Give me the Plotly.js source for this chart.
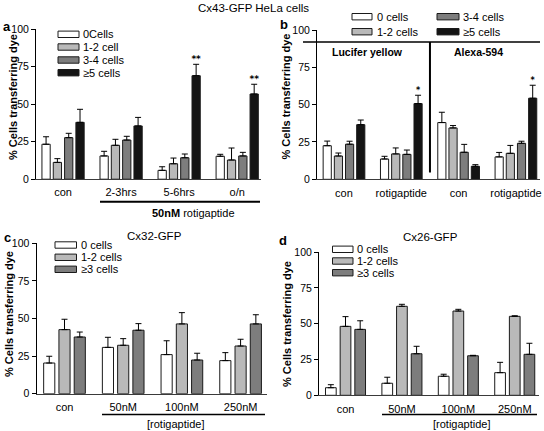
<!DOCTYPE html>
<html><head><meta charset="utf-8">
<script src="https://cdn.plot.ly/plotly-3.0.1.min.js"></script>
<style>html,body{margin:0;padding:0;background:#fff}#chart{width:544px;height:431px}</style>
</head><body><div id="chart"></div>
<script>
// ---------- data ----------
const aCategories = ['con', '2-3hrs', '5-6hrs', 'o/n'];
const aNames = ['0Cells', '1-2 cell', '3-4 cells', '\u22655 cells'];
const a0 = [23.3, 15.5, 5.9, 15.3],   a0Err = [5.0, 3.1, 2.4, 1.3];
const a12 = [11.2, 22.6, 10.3, 12.8], a12Err = [2.5, 4.0, 3.8, 8.0];
const a34 = [27.7, 26.1, 14.3, 15.5], a34Err = [2.9, 2.5, 2.5, 2.4];
const a5 = [37.9, 35.5, 69.0, 56.8],  a5Err = [8.7, 5.7, 7.6, 6.5];
const aStars = ['', '', '**', '**'];

const bCategories = ['con', 'rotigaptide', 'con', 'rotigaptide'];
const bNames = ['0 cells', '1-2 cells', '3-4 cells', '\u22655 cells'];
const b0 = [22.5, 13.6, 38.0, 15.0],  b0Err = [3.1, 1.8, 6.9, 3.0];
const b12 = [15.6, 17.0, 34.4, 17.4], b12Err = [2.0, 4.0, 1.6, 5.3];
const b34 = [23.5, 16.7, 18.1, 24.1], b34Err = [2.0, 2.9, 5.3, 1.4];
const b5 = [36.6, 50.7, 8.7, 54.3],   b5Err = [3.1, 5.6, 1.1, 8.7];
const bStars = ['', '*', '', '*'];
const bDyes = ['Lucifer yellow', 'Alexa-594'];

const cCategories = ['con', '50nM', '100nM', '250nM'];
const cNames = ['0 cells', '1-2 cells', '\u22653 cells'];
const c0 = [20.4, 30.8, 26.0, 22.0],  c0Err = [4.5, 6.7, 9.2, 5.3];
const c12 = [42.6, 32.2, 46.4, 31.7], c12Err = [6.9, 4.4, 7.5, 4.5];
const c3 = [37.7, 42.2, 22.4, 46.4],  c3Err = [3.3, 4.4, 4.5, 6.1];

const dCategories = ['con', '50nM', '100nM', '250nM'];
const dNames = ['0 cells', '1-2 cells', '\u22653 cells'];
const d0 = [5.3, 8.4, 13.3, 15.8],    d0Err = [2.1, 4.2, 1.4, 7.2];
const d12 = [48.1, 62.1, 58.8, 55.1], d12Err = [6.8, 1.4, 1.2, 0.4];
const d3 = [46.0, 29.0, 27.6, 28.6],  d3Err = [6.0, 5.2, 0.3, 7.7];

const yTicks = [0, 25, 50, 75, 100];

// ---------- styling / layout ----------
const W = 544, H = 431;
const px = x => x / W, py = y => 1 - y / H;
const FONT = 'Liberation Sans, Arial, Helvetica, sans-serif';
const fill4 = ['#ffffff', '#b9b9b9', '#7d7d7d', '#141414'];
const fill3 = ['#ffffff', '#b9b9b9', '#7d7d7d'];
const BARGAP = 0.22, GROUPGAP = 0.27;

const traces = [];
function addPanel(ax, cats, series, errs, names, fills) {
  const xs = cats.map((c, i) => i);
  series.forEach((vals, k) => {
    traces.push({
      type: 'bar', x: xs, y: vals, name: names[k], showlegend: false,
      xaxis: 'x' + ax, yaxis: 'y' + ax,
      marker: {color: fills[k], line: {color: '#1a1a1a', width: 1}},
      error_y: {type: 'data', symmetric: false, array: errs[k],
                arrayminus: vals.map(() => 0), color: '#000', thickness: 1, width: 3},
      hoverinfo: 'skip'
    });
  });
}
addPanel('', aCategories, [a0, a12, a34, a5], [a0Err, a12Err, a34Err, a5Err], aNames, fill4);
addPanel('2', bCategories, [b0, b12, b34, b5], [b0Err, b12Err, b34Err, b5Err], bNames, fill4);
addPanel('3', cCategories, [c0, c12, c3], [c0Err, c12Err, c3Err], cNames, fill3);
addPanel('4', dCategories, [d0, d12, d3], [d0Err, d12Err, d3Err], dNames, fill3);

function groupOffset(k, n) {
  const w = (1 - BARGAP) / n;
  return -(1 - BARGAP) / 2 + (k + 0.5) * w;
}
// significance marks as text traces placed above the error bars
function starTrace(ax, stars, vals, errs, k, n, size) {
  const idx = stars.map((s, i) => i).filter(i => stars[i]);
  traces.push({
    type: 'scatter', mode: 'text', xaxis: 'x' + ax, yaxis: 'y' + ax, showlegend: false,
    x: idx.map(i => i + groupOffset(k, n)), y: idx.map(i => vals[i] + errs[i]),
    text: idx.map(i => '<b>' + stars[i] + '</b>'), textposition: 'top center',
    textfont: {family: 'DejaVu Sans, sans-serif', size: size, color: '#000000'},
    hoverinfo: 'skip', cliponaxis: false
  });
}
starTrace('', aStars, a5, a5Err, 3, 4, 9);
starTrace('2', bStars, b5, b5Err, 3, 4, 8);

function xax(dom, range, cats, anchor, tl) {
  return {domain: [px(dom[0]), px(dom[1])], range: range, anchor: anchor,
    tickvals: cats.map((c, i) => i), ticktext: cats, ticks: 'outside', ticklen: tl,
    tickcolor: 'rgba(0,0,0,0)',
    showline: true, linecolor: '#3a3a3a', linewidth: 1, showgrid: false, zeroline: false,
    tickfont: {family: FONT, size: 11, color: '#000'}, fixedrange: true};
}
function yax(top, bottom, anchor) {
  return {domain: [py(bottom), py(top)], range: [0, 100], anchor: anchor,
    tickvals: yTicks, ticks: 'outside', ticklen: 4, tickcolor: '#000', tickwidth: 1,
    showline: true, linecolor: '#000', linewidth: 1, showgrid: false, zeroline: false,
    tickfont: {family: FONT, size: 10.5, color: '#000'}, fixedrange: true};
}

const annotations = [];
const shapes = [];
function txt(x, y, text, size, opts) {
  annotations.push(Object.assign({xref: 'paper', yref: 'paper', x: px(x), y: py(y), text: text,
    showarrow: false, xanchor: 'center', yanchor: 'middle',
    font: {family: FONT, size: size, color: '#000'}}, opts || {}));
}
function line(x0, y0, x1, y1, w) {
  shapes.push({type: 'line', xref: 'paper', yref: 'paper', x0: px(x0), y0: py(y0), x1: px(x1), y1: py(y1),
    line: {color: '#000', width: w}});
}
function legend(names, fills, boxX, textX, rowsY) {
  names.forEach((n, k) => {
    shapes.push({type: 'rect', xref: 'paper', yref: 'paper',
      x0: px(boxX[0]), x1: px(boxX[1]), y0: py(rowsY[k] + 3.2), y1: py(rowsY[k] - 3.2),
      fillcolor: fills[k], line: {color: '#1a1a1a', width: 1}});
    txt(textX, rowsY[k], n, 11, {xanchor: 'left'});
  });
}

// titles and panel letters
txt(253.5, 8, 'Cx43-GFP HeLa cells', 11.5);
txt(7, 26, '<b>a</b>', 13);
txt(283.5, 25, '<b>b</b>', 13);
txt(7, 238, '<b>c</b>', 13);
txt(283, 240, '<b>d</b>', 13);
txt(154, 236, 'Cx32-GFP', 11.5);
txt(430, 237, 'Cx26-GFP', 11.5);
// y-axis titles
const yTitle = '<b>% Cells transferring dye</b>';
txt(13, 97, yTitle, 11, {textangle: -90});
txt(285.5, 97, yTitle, 11, {textangle: -90});
txt(9, 314, yTitle, 11, {textangle: -90});
txt(287, 324, yTitle, 11, {textangle: -90});
// brackets
line(100, 201.7, 260, 201.7, 2);
txt(193.5, 212.5, '<b>50nM</b> rotigaptide', 11);
line(102, 414.5, 265, 414.5, 1.5);
txt(175, 424, '[rotigaptide]', 11);
line(382, 414.5, 537, 414.5, 1.5);
txt(461, 424, '[rotigaptide]', 11);
// panel b dividers
line(303, 42, 540, 42, 1.5);
shapes.push({type: 'line', xref: 'x2', yref: 'y2', x0: 1.5, x1: 1.5, y0: 4.5, y1: 92,
  line: {color: '#000', width: 2}});
txt(367, 52, '<b>' + bDyes[0] + '</b>', 10.5);
txt(478.5, 52, '<b>' + bDyes[1] + '</b>', 10.5);
// legends
legend(aNames, fill4, [58, 79], 81, [34.3, 47, 60, 72.7]);
legend([bNames[0], bNames[1]], [fill4[0], fill4[1]], [352, 372], 374.5, [16.7, 31.7]);
legend([bNames[2], bNames[3]], [fill4[2], fill4[3]], [437, 459], 461, [16.7, 31.7]);
legend(cNames, fill3, [55, 76.5], 78.5, [245, 257.3, 269.3]);
legend(dNames, fill3, [332.5, 353], 355, [249.3, 261, 272.7]);

const layout = {
  width: W, height: H, margin: {l: 0, r: 0, t: 0, b: 0},
  paper_bgcolor: '#fff', plot_bgcolor: 'rgba(0,0,0,0)',
  barmode: 'group', bargap: BARGAP, bargroupgap: GROUPGAP,
  showlegend: false, font: {family: FONT, size: 11, color: '#000'},
  xaxis: xax([36, 261], [-0.466, 3.41], aCategories, 'y', 3),
  yaxis: yax(29.2, 179.2, 'x'),
  xaxis2: xax([317, 540], [-0.471, 3.42], bCategories, 'y2', 3),
  yaxis2: yax(30, 179.3, 'x2'),
  xaxis3: xax([36.5, 267], [-0.477, 3.45], cCategories, 'y3', 3),
  yaxis3: yax(243.3, 393.7, 'x3'),
  xaxis4: xax([319, 539], [-0.47, 3.43], dCategories, 'y4', 3),
  yaxis4: yax(252, 395.3, 'x4'),
  annotations: annotations, shapes: shapes
};
Plotly.newPlot('chart', traces, layout, {staticPlot: true, displayModeBar: false});
</script>
</body></html>
